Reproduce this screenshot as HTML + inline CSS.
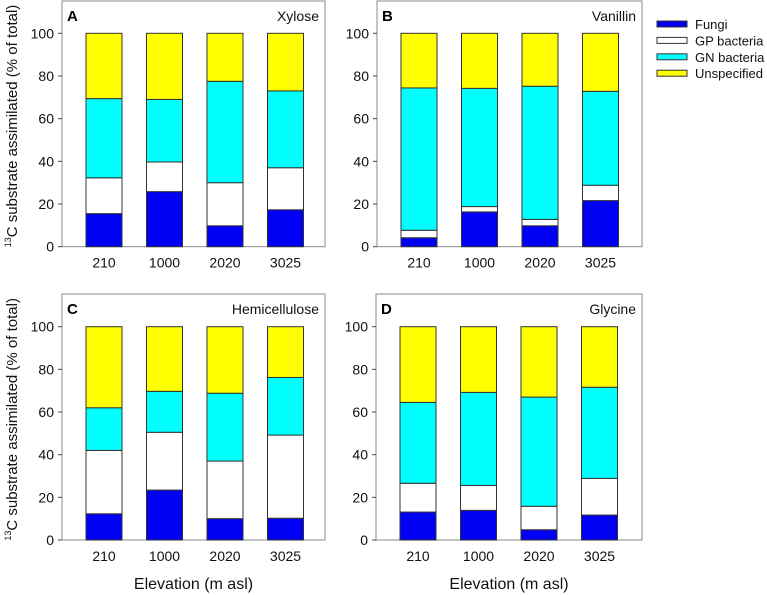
<!DOCTYPE html>
<html><head><meta charset="utf-8"><style>
body{margin:0;background:#fff}
svg{display:block;font-family:"Liberation Sans",Arial,sans-serif}
</style></head><body>
<svg id="chart" width="767" height="595"></svg>
<script>
const categories = ["210","1000","2020","3025"];
const panelLetters = ["A","B","C","D"];
const panelTitles = ["Xylose","Vanillin","Hemicellulose","Glycine"];
const seriesNames = ["Fungi","GP bacteria","GN bacteria","Unspecified"];
const seriesColors = ["#0000f5","#ffffff","#00ffff","#ffff00"];
const yTicks = [0,20,40,60,80,100];
// values (% of total) per panel, per category
const fungiA = [15.5,25.8,9.8,17.3];
const gpA = [16.8,13.9,20.2,19.7];
const gnA = [37.1,29.3,47.5,36.0];
const unA = [30.6,31.0,22.5,27.0];
const fungiB = [4.2,16.3,9.8,21.6];
const gpB = [3.5,2.5,3.0,7.2];
const gnB = [66.7,55.4,62.4,44.0];
const unB = [25.6,25.8,24.8,27.2];
const fungiC = [12.3,23.4,10.0,10.2];
const gpC = [29.7,27.1,27.0,39.0];
const gnC = [20.0,19.2,31.8,27.0];
const unC = [38.0,30.3,31.2,23.8];
const fungiD = [13.1,13.9,4.8,11.7];
const gpD = [13.5,11.7,11.0,17.2];
const gnD = [37.9,43.6,51.2,42.7];
const unD = [35.5,30.8,33.0,28.4];
const panelData = [[fungiA,gpA,gnA,unA],[fungiB,gpB,gnB,unB],[fungiC,gpC,gnC,unC],[fungiD,gpD,gnD,unD]];

const NS="http://www.w3.org/2000/svg";
const svg=document.getElementById('chart');
function mk(tag,attrs,parent){const e=document.createElementNS(NS,tag);for(const k in attrs)e.setAttribute(k,attrs[k]);(parent||svg).appendChild(e);return e;}

const layouts=[{x0:62,x1:325,top:1,y0:246.7,y100:33.3},{x0:377,x1:642,top:1,y0:246.7,y100:33.3},
{x0:62,x1:325,top:294,y0:540,y100:326.7},{x0:376,x1:642,top:294,y0:540,y100:326.7}];

panelData.forEach((series,p)=>{
  const L=layouts[p];
  const g=mk('g',{});
  
  
  const yS=v=>L.y0-(L.y0-L.y100)*v/100;
  const xC=i=>L.x0+42+i*60.5;
  const frame=mk('rect',{x:L.x0,y:L.top,width:L.x1-L.x0,height:L.y0-L.top,fill:'none',stroke:'#8a8a8a','stroke-width':1},g);
  
  
  yTicks.forEach(t=>{
    const tk=mk('line',{x1:L.x0-4,x2:L.x0,y1:yS(t),y2:yS(t),stroke:'#444'},g);
    
    
    const tl=mk('text',{x:L.x0-8,y:yS(t)+5,'text-anchor':'end','font-size':14,fill:'#111'},g);
    tl.textContent=t;
    
    
  });
  categories.forEach((c,i)=>{
    let cum=0;
    series.forEach((vals,s)=>{
      const v=vals[i];
      const r=mk('rect',{x:xC(i)-18,y:yS(cum+v),width:36,height:yS(cum)-yS(cum+v),fill:seriesColors[s],stroke:'#333','stroke-width':1},g);
      
      
      cum+=v;
    });
    const xl=mk('text',{x:xC(i),y:L.y0+21,'text-anchor':'middle','font-size':14,fill:'#111'},g);
    xl.textContent=c;
    
    
  });
  const pl=mk('text',{x:L.x0+5,y:L.top+20,'font-size':15,'font-weight':'bold',fill:'#000'},g);
  pl.textContent=panelLetters[p];
  
  
  const pt=mk('text',{x:L.x1-6,y:L.top+20,'text-anchor':'end','font-size':14,fill:'#111'},g);
  pt.textContent=panelTitles[p];
  
  
  if(p%2===0){
    const yt=mk('text',{transform:'translate(17,'+((L.y0+L.y100)/2-14)+') rotate(-90)','text-anchor':'middle','font-size':15,fill:'#111'},g);
    
    
    const s1=mk('tspan',{'font-size':9,dy:-6},yt);s1.textContent='13';
    const s2=mk('tspan',{dy:6},yt);s2.textContent='C substrate assimilated (% of total)';
  }
  if(p>=2){
    const xt=mk('text',{x:(L.x0+L.x1)/2,y:589,'text-anchor':'middle','font-size':16,fill:'#111'},g);
    xt.textContent='Elevation (m asl)';
    
    
  }
});
const lg=mk('g',{});


seriesNames.forEach((n,s)=>{
  const y=24+s*16.4;
  const sw=mk('rect',{x:657,y:y-3,width:30,height:6,fill:seriesColors[s],stroke:'#333'},lg);
  
  
  const t=mk('text',{x:695,y:y+5,'font-size':13,fill:'#111'},lg);
  t.textContent=n;
  
  
});
</script>
</body></html>
